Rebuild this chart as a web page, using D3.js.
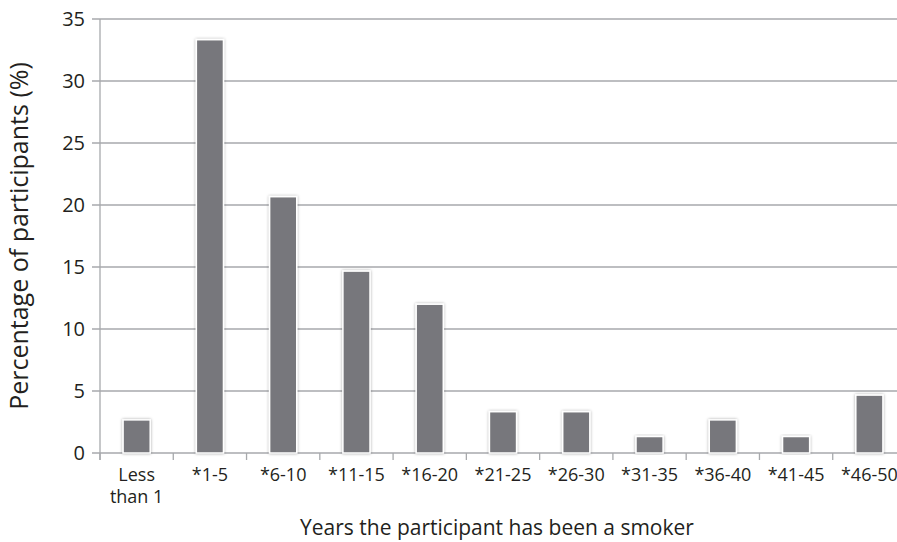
<!DOCTYPE html>
<html>
<head>
<meta charset="utf-8">
<script src="https://cdn.jsdelivr.net/npm/d3@7"></script>
<style>
  html, body { margin: 0; padding: 0; background: #fff; }
  svg { display: block; }
  text { font-family: "Open Sans", "Noto Sans", sans-serif; fill: #231f20; }
</style>
</head>
<body>
<svg id="chart" width="897" height="542"></svg>
<script>
const categories = ["Less\nthan 1", "*1-5", "*6-10", "*11-15", "*16-20", "*21-25", "*26-30", "*31-35", "*36-40", "*41-45", "*46-50"];
const values = [2.67, 33.33, 20.67, 14.67, 12, 3.33, 3.33, 1.33, 2.67, 1.33, 4.67];
const yTicks = [0, 5, 10, 15, 20, 25, 30, 35];
const xTitle = "Years the participant has been a smoker";
const yTitle = "Percentage of participants (%)";

const svg = d3.select("#chart");
const W = 897, H = 542;
const mLeft = 100, mRight = 906, mTop = 19, mBottom = 453;

const x = d3.scaleBand().domain(categories).range([mLeft, mRight]).padding(0);
const y = d3.scaleLinear().domain([0, 35]).range([mBottom, mTop]);

const defs = svg.append("defs");
const f = defs.append("filter").attr("id", "sh").attr("x", "-30%").attr("y", "-10%").attr("width", "160%").attr("height", "120%");
f.append("feDropShadow").attr("dx", 0).attr("dy", 0).attr("stdDeviation", 1.6)
  .attr("flood-color", "#000").attr("flood-opacity", 0.35);

// gridlines
svg.append("g").selectAll("line").data(yTicks).join("line")
  .attr("x1", 92).attr("x2", W)
  .attr("y1", d => y(d)).attr("y2", d => y(d))
  .attr("stroke", "#a7a9ac").attr("stroke-width", 1.3);

// y axis line
svg.append("line").attr("x1", mLeft).attr("x2", mLeft).attr("y1", mTop).attr("y2", mBottom + 7)
  .attr("stroke", "#a7a9ac").attr("stroke-width", 1.3);

// x ticks
svg.append("g").selectAll("line").data(categories.concat(["_end"])).join("line")
  .attr("x1", (d, i) => mLeft + i * x.step()).attr("x2", (d, i) => mLeft + i * x.step())
  .attr("y1", mBottom).attr("y2", mBottom + 7)
  .attr("stroke", "#a7a9ac").attr("stroke-width", 1.3);

// y tick labels
svg.append("g").selectAll("text").data(yTicks).join("text")
  .attr("x", 85).attr("y", d => y(d)).attr("dy", "0.36em")
  .attr("text-anchor", "end").attr("font-size", 20).text(d => d);

// bars
const bw = x.step() * 0.37;
svg.append("g").selectAll("rect").data(values).join("rect")
  .attr("x", (d, i) => x(categories[i]) + x.bandwidth() / 2 - bw / 2)
  .attr("width", bw)
  .attr("y", d => y(d))
  .attr("height", d => mBottom - y(d))
  .attr("fill", "#77777b")
  .attr("stroke", "#fff").attr("stroke-width", 1.5)
  .attr("filter", "url(#sh)");

// x tick labels
const xl = svg.append("g").selectAll("text").data(categories).join("text")
  .attr("text-anchor", "middle").attr("font-size", 18);
xl.each(function(d) {
  const t = d3.select(this);
  const cx = x(d) + x.bandwidth() / 2;
  d.split("\n").forEach((line, j) => {
    t.append("tspan").attr("x", cx).attr("y", 481 + j * 22).text(line);
  });
});

// titles
svg.append("text").attr("x", 497).attr("y", 535).attr("text-anchor", "middle")
  .attr("font-size", 21).text(xTitle);
svg.append("text").attr("transform", `translate(28,236) rotate(-90)`)
  .attr("text-anchor", "middle").attr("font-size", 25).text(yTitle);
</script>
</body>
</html>
